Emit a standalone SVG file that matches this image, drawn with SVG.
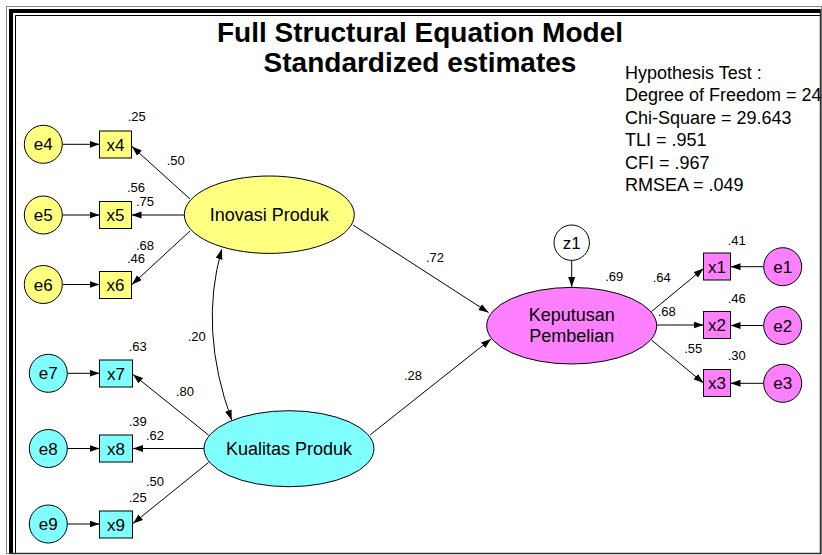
<svg xmlns="http://www.w3.org/2000/svg" width="822" height="555" viewBox="0 0 822 555">
<defs>
<marker id="arr" markerUnits="userSpaceOnUse" markerWidth="11" markerHeight="8" refX="10" refY="3.5" orient="auto-start-reverse">
<path d="M0,0 L10,3.5 L0,7 Z" fill="#000"/>
</marker>
</defs>
<style>
text{font-family:"Liberation Sans",Arial,sans-serif;fill:#000}
.title{font-size:28px;font-weight:bold;text-anchor:middle}
.hyp{font-size:18px}
.nt{font-size:17px;text-anchor:middle}
.lt{font-size:18px;text-anchor:middle}
.lb{font-size:13px;text-anchor:middle}
.e{stroke:#000;stroke-width:1}
.y{fill:#FFFF80}
.c{fill:#80FFFF}
.m{fill:#FF80FF}
.w{fill:#FFF}
#connectors path{fill:none;stroke:#000;stroke-width:1;marker-end:url(#arr)}
</style>
<rect x="0" y="0" width="822" height="555" fill="#fff"/>
<g id="frame">
<rect x="6.5" y="6.5" width="815" height="547" fill="none" stroke="#888" stroke-width="1"/>
<rect x="9" y="9" width="811" height="4" fill="#000"/>
<rect x="9" y="9" width="4" height="544" fill="#000"/>
<path d="M15.5,553 V15.5 H820" fill="none" stroke="#000" stroke-width="1"/>
<path d="M820.5,9 V553.5 H9" fill="none" stroke="#333" stroke-width="1.5"/>
</g>
<g id="title">
<text class="title" x="420" y="42">Full Structural Equation Model</text>
<text class="title" x="420" y="72">Standardized estimates</text>
</g>
<g id="fit">
<text class="hyp" x="625" y="78.5">Hypothesis Test :</text>
<text class="hyp" x="625" y="101">Degree of Freedom = 24</text>
<text class="hyp" x="625" y="123.5">Chi-Square = 29.643</text>
<text class="hyp" x="625" y="146">TLI = .951</text>
<text class="hyp" x="625" y="168.5">CFI = .967</text>
<text class="hyp" x="625" y="191">RMSEA = .049</text>
</g>
<g id="connectors">
<path d="M62.5,144.3 L99.5,144.3"/>
<path d="M62.5,215 L99.5,215"/>
<path d="M62.5,284.5 L99.5,284.5"/>
<path d="M67.5,373.3 L99.5,373.3"/>
<path d="M67.5,448.5 L99.5,448.5"/>
<path d="M67.5,524 L99.5,524"/>
<path d="M190,199 L132,146.5"/>
<path d="M184.3,215 L131.5,215"/>
<path d="M190,231 L132,284.5"/>
<path d="M208.5,435 L133,374.5"/>
<path d="M204,448.5 L133,448.5"/>
<path d="M208.5,462.5 L133,523.5"/>
<path d="M353,225 L488.5,312.5"/>
<path d="M370,435 L491,339"/>
<path d="M571.7,260.5 L571.7,287"/>
<path d="M651.5,311.5 L703.5,268.5"/>
<path d="M656.7,325 L703.5,325"/>
<path d="M651.5,340 L703.5,383"/>
<path d="M763.4,266.7 L730.5,266.7"/>
<path d="M763.4,325.5 L730.5,325.5"/>
<path d="M763.4,383.3 L730.5,383.3"/>
<path d="M221.7,249.3 Q198.7,330 231.7,420" style="marker-start:url(#arr)"/>
</g>
<g id="labels">
<text class="lb" x="136.7" y="121">.25</text>
<text class="lb" x="175.7" y="164.5">.50</text>
<text class="lb" x="136" y="192">.56</text>
<text class="lb" x="145" y="206">.75</text>
<text class="lb" x="145" y="250">.68</text>
<text class="lb" x="136" y="263">.46</text>
<text class="lb" x="196.7" y="340.5">.20</text>
<text class="lb" x="137.7" y="351">.63</text>
<text class="lb" x="185" y="396">.80</text>
<text class="lb" x="137.7" y="426">.39</text>
<text class="lb" x="155" y="440">.62</text>
<text class="lb" x="155" y="486">.50</text>
<text class="lb" x="137.7" y="502">.25</text>
<text class="lb" x="413" y="379.5">.28</text>
<text class="lb" x="435" y="262">.72</text>
<text class="lb" x="614.3" y="281">.69</text>
<text class="lb" x="661.7" y="282">.64</text>
<text class="lb" x="736.7" y="245">.41</text>
<text class="lb" x="736.7" y="303">.46</text>
<text class="lb" x="666.7" y="316">.68</text>
<text class="lb" x="693.3" y="353">.55</text>
<text class="lb" x="736.7" y="359.5">.30</text>
</g>
<g id="e4"><circle class="e y" cx="43.3" cy="144.3" r="19"/><text class="nt" x="43.3" y="150.3">e4</text></g>
<g id="e5"><circle class="e y" cx="43.3" cy="215" r="19"/><text class="nt" x="43.3" y="221">e5</text></g>
<g id="e6"><circle class="e y" cx="43.3" cy="284.5" r="19"/><text class="nt" x="43.3" y="290.5">e6</text></g>
<g id="x4"><rect class="e y" x="99.5" y="131" width="32" height="27"/><text class="nt" x="115.5" y="150.5">x4</text></g>
<g id="x5"><rect class="e y" x="99.5" y="201.5" width="32" height="27"/><text class="nt" x="115.5" y="221">x5</text></g>
<g id="x6"><rect class="e y" x="99.5" y="271.5" width="32" height="27"/><text class="nt" x="115.5" y="291">x6</text></g>
<g id="e7"><circle class="e c" cx="48.3" cy="373.3" r="19"/><text class="nt" x="48.3" y="379.3">e7</text></g>
<g id="e8"><circle class="e c" cx="48.3" cy="448.5" r="19"/><text class="nt" x="48.3" y="454.5">e8</text></g>
<g id="e9"><circle class="e c" cx="48.3" cy="524" r="19"/><text class="nt" x="48.3" y="530">e9</text></g>
<g id="x7"><rect class="e c" x="99.5" y="360" width="33" height="27"/><text class="nt" x="116" y="379.5">x7</text></g>
<g id="x8"><rect class="e c" x="99.5" y="435" width="33" height="27"/><text class="nt" x="116" y="454.5">x8</text></g>
<g id="x9"><rect class="e c" x="99.5" y="511" width="33" height="27"/><text class="nt" x="116" y="530.5">x9</text></g>
<g id="inovasi"><ellipse class="e y" cx="269.3" cy="214.7" rx="85" ry="38.7"/><text class="lt" x="269.3" y="221">Inovasi Produk</text></g>
<g id="kualitas"><ellipse class="e c" cx="289" cy="448.7" rx="85" ry="38"/><text class="lt" x="289" y="455">Kualitas Produk</text></g>
<g id="keputusan"><ellipse class="e m" cx="571.7" cy="325.7" rx="85" ry="38.3"/><text class="lt" x="571.7" y="321">Keputusan</text><text class="lt" x="571.7" y="342">Pembelian</text></g>
<g id="z1"><circle class="e w" cx="571.7" cy="242.7" r="17.7"/><text class="nt" x="571.7" y="248.7">z1</text></g>
<g id="x1"><rect class="e m" x="703.5" y="253" width="27" height="27"/><text class="nt" x="717" y="272.5">x1</text></g>
<g id="x2"><rect class="e m" x="703.5" y="311.5" width="27" height="27"/><text class="nt" x="717" y="331">x2</text></g>
<g id="x3"><rect class="e m" x="703.5" y="369.5" width="27" height="27"/><text class="nt" x="717" y="389">x3</text></g>
<g id="e1"><circle class="e m" cx="782.7" cy="266.7" r="19"/><text class="nt" x="782.7" y="272.7">e1</text></g>
<g id="e2"><circle class="e m" cx="782.7" cy="325.5" r="19"/><text class="nt" x="782.7" y="331.5">e2</text></g>
<g id="e3"><circle class="e m" cx="782.7" cy="383.3" r="19"/><text class="nt" x="782.7" y="389.3">e3</text></g>
</svg>
